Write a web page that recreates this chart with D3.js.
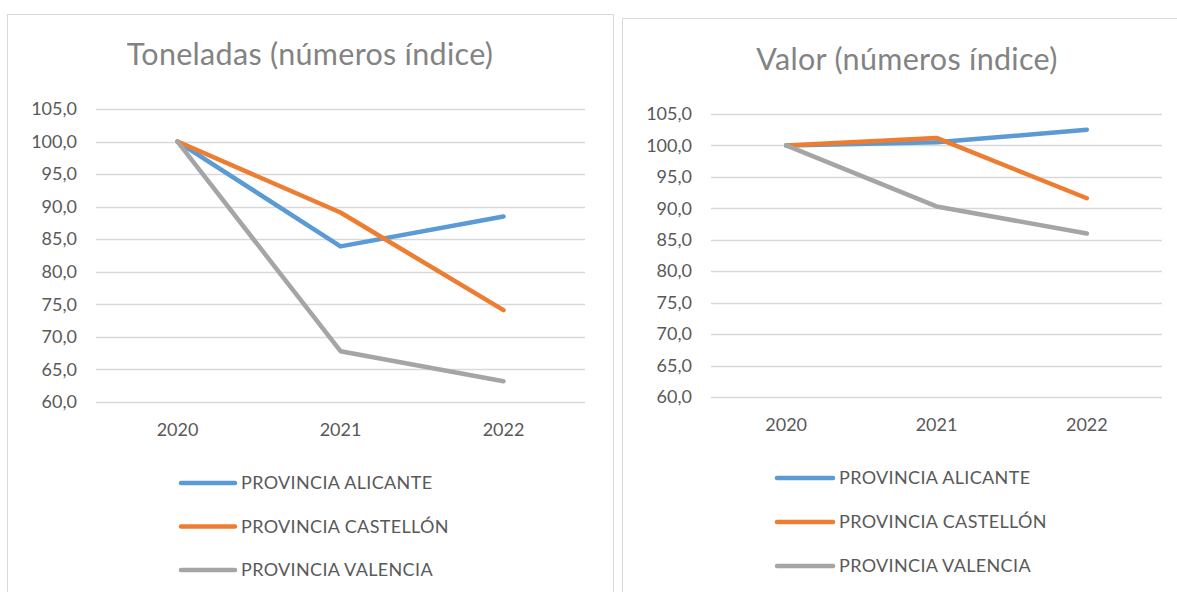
<!DOCTYPE html>
<html>
<head>
<meta charset="utf-8">
<script src="https://cdn.jsdelivr.net/npm/d3@7"></script>
<style>
  body { margin: 0; background: #fff; }
  svg text { font-family: Lato, "Open Sans", sans-serif; fill: #595959; }
</style>
</head>
<body>
<svg id="chart" width="1177" height="592"></svg>
<script>
// data
var years = ["2020", "2021", "2022"];
var provincias = ["PROVINCIA ALICANTE", "PROVINCIA CASTELLÓN", "PROVINCIA VALENCIA"];
var colores = ["#5b9bd5", "#ed7d31", "#a5a5a5"];
var yTicks = [60, 65, 70, 75, 80, 85, 90, 95, 100, 105];

var toneladasAlicante = [100, 83.9, 88.5];
var toneladasCastellon = [100, 89.1, 74.1];
var toneladasValencia = [100, 67.8, 63.2];

var valorAlicante = [100, 100.5, 102.5];
var valorCastellon = [100, 101.2, 91.6];
var valorValencia = [100, 90.3, 86.0];

var fmt = d3.formatLocale({decimal: ",", thousands: ".", grouping: [3], currency: ["", "€"]}).format(".1f");
var svg = d3.select("#chart");

function drawChart(cfg) {
	var g = svg.append("g");

	g.append("rect")
		.attr("x", cfg.box[0] + 0.5)
		.attr("y", cfg.box[1] + 0.5)
		.attr("width", cfg.box[2])
		.attr("height", cfg.box[3])
		.attr("fill", "#fff")
		.attr("stroke", "#d9d9d9");

	g.append("text")
		.attr("x", cfg.titleX)
		.attr("y", cfg.titleY)
		.attr("text-anchor", "middle")
		.style("font-size", "30.5px")
		.style("letter-spacing", "0.3px")
		.style("fill", "#838383")
		.text(cfg.title);

	var x = d3.scaleBand().domain(years).range([cfg.left, cfg.right]);
	var y = d3.scaleLinear().domain([60, 105]).range([cfg.bottom, cfg.top]);

	// gridlines
	g.selectAll("line.grid")
		.data(yTicks)
		.enter().append("line")
		.attr("class", "grid")
		.attr("x1", cfg.left)
		.attr("x2", cfg.right)
		.attr("y1", function(d) { return Math.round(y(d)) + 0.5; })
		.attr("y2", function(d) { return Math.round(y(d)) + 0.5; })
		.attr("stroke", "#d9d9d9")
		.attr("stroke-width", 1.3);

	var yAxis = g.append("g")
		.attr("transform", "translate(" + cfg.left + ",0)")
		.call(d3.axisLeft(y).tickValues(yTicks).tickFormat(fmt).tickSize(0).tickPadding(19));
	yAxis.select(".domain").remove();
	yAxis.selectAll("text").style("font-size", "18px").attr("fill", "#595959");

	var xAxis = g.append("g")
		.attr("transform", "translate(0," + cfg.bottom + ")")
		.call(d3.axisBottom(x).tickSize(0).tickPadding(21));
	xAxis.select(".domain").remove();
	xAxis.selectAll("text").style("font-size", "18px").attr("fill", "#595959");

	var line = d3.line()
		.x(function(d, i) { return x(years[i]) + x.bandwidth() / 2; })
		.y(function(d) { return y(d); });

	cfg.series.forEach(function(s, i) {
		g.append("path")
			.datum(s)
			.attr("d", line)
			.attr("fill", "none")
			.attr("stroke", colores[i])
			.attr("stroke-width", 4.5)
			.attr("stroke-linejoin", "round")
			.attr("stroke-linecap", "round");
	});

	var leg = g.selectAll("g.leg")
		.data(provincias)
		.enter().append("g")
		.attr("class", "leg")
		.attr("transform", function(d, i) { return "translate(" + cfg.legX + "," + (cfg.legY + i * cfg.legStep) + ")"; });
	leg.append("line")
		.attr("x1", 0).attr("x2", cfg.legLen)
		.attr("stroke", function(d, i) { return colores[i]; })
		.attr("stroke-width", 4.5)
		.attr("stroke-linecap", "round");
	leg.append("text")
		.attr("x", cfg.legLen + 6)
		.attr("dy", "0.36em")
		.style("font-size", "18px")
		.style("letter-spacing", "0.35px")
		.text(function(d) { return d; });
}

drawChart({
	box: [7, 14, 606, 600],
	title: "Toneladas (números índice)",
	titleX: 310, titleY: 65,
	left: 96, right: 585, top: 109, bottom: 402,
	series: [toneladasAlicante, toneladasCastellon, toneladasValencia],
	legX: 181, legY: 483, legStep: 43.5, legLen: 54
});

drawChart({
	box: [622, 18, 560, 600],
	title: "Valor (números índice)",
	titleX: 907, titleY: 70,
	left: 711, right: 1162, top: 114, bottom: 397,
	series: [valorAlicante, valorCastellon, valorValencia],
	legX: 777, legY: 478, legStep: 44, legLen: 56
});
</script>
</body>
</html>
